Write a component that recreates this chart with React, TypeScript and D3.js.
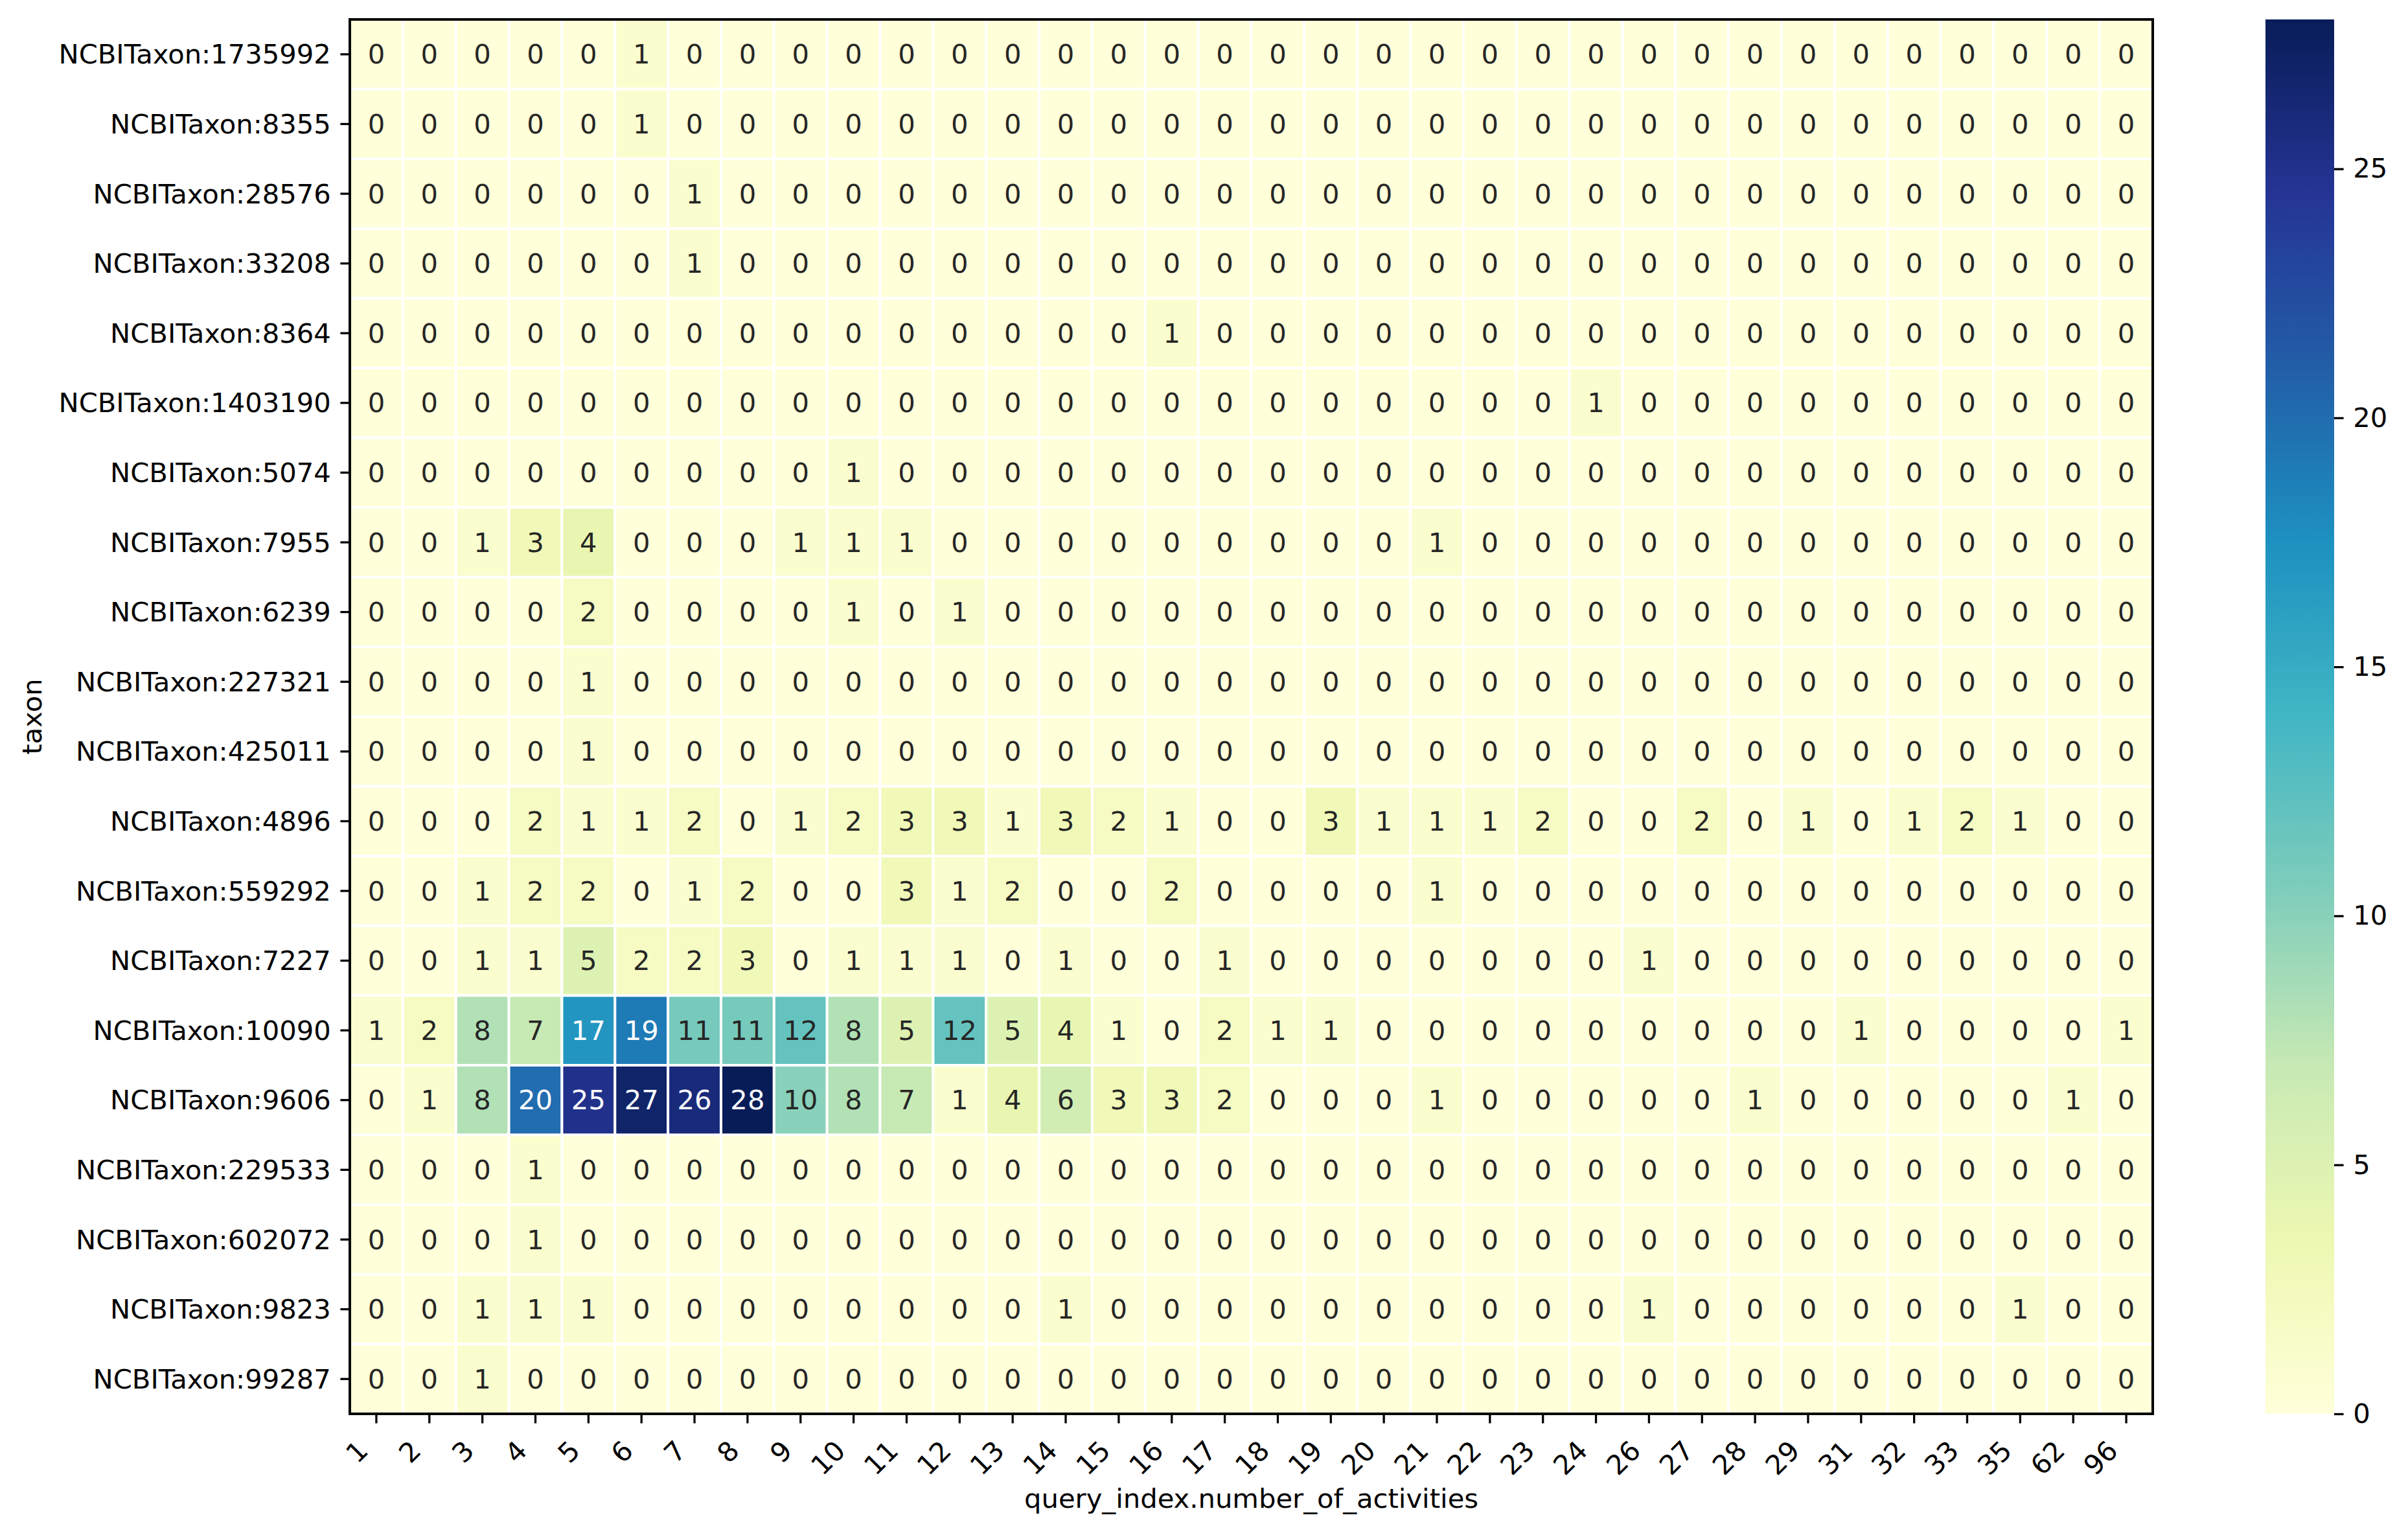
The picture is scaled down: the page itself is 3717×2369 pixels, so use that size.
import React, { useEffect, useRef } from 'react';
import * as d3 from 'd3';

// rows of the heatmap (top to bottom)
const taxa = [
  'NCBITaxon:1735992', 'NCBITaxon:8355', 'NCBITaxon:28576', 'NCBITaxon:33208',
  'NCBITaxon:8364', 'NCBITaxon:1403190', 'NCBITaxon:5074', 'NCBITaxon:7955',
  'NCBITaxon:6239', 'NCBITaxon:227321', 'NCBITaxon:425011', 'NCBITaxon:4896',
  'NCBITaxon:559292', 'NCBITaxon:7227', 'NCBITaxon:10090', 'NCBITaxon:9606',
  'NCBITaxon:229533', 'NCBITaxon:602072', 'NCBITaxon:9823', 'NCBITaxon:99287',
];

// columns (query_index.number_of_activities)
const activityBins = [
  '1', '2', '3', '4', '5', '6', '7', '8', '9', '10', '11', '12', '13', '14', '15', '16', '17',
  '18', '19', '20', '21', '22', '23', '24', '26', '27', '28', '29', '31', '32', '33', '35', '62', '96',
];

// one row per taxon, one value per column
const counts = [
  [0,0,0,0,0,1,0,0,0,0,0,0,0,0,0,0,0, 0,0,0,0,0,0,0,0,0,0,0,0,0,0,0,0,0],
  [0,0,0,0,0,1,0,0,0,0,0,0,0,0,0,0,0, 0,0,0,0,0,0,0,0,0,0,0,0,0,0,0,0,0],
  [0,0,0,0,0,0,1,0,0,0,0,0,0,0,0,0,0, 0,0,0,0,0,0,0,0,0,0,0,0,0,0,0,0,0],
  [0,0,0,0,0,0,1,0,0,0,0,0,0,0,0,0,0, 0,0,0,0,0,0,0,0,0,0,0,0,0,0,0,0,0],
  [0,0,0,0,0,0,0,0,0,0,0,0,0,0,0,1,0, 0,0,0,0,0,0,0,0,0,0,0,0,0,0,0,0,0],
  [0,0,0,0,0,0,0,0,0,0,0,0,0,0,0,0,0, 0,0,0,0,0,0,1,0,0,0,0,0,0,0,0,0,0],
  [0,0,0,0,0,0,0,0,0,1,0,0,0,0,0,0,0, 0,0,0,0,0,0,0,0,0,0,0,0,0,0,0,0,0],
  [0,0,1,3,4,0,0,0,1,1,1,0,0,0,0,0,0, 0,0,0,1,0,0,0,0,0,0,0,0,0,0,0,0,0],
  [0,0,0,0,2,0,0,0,0,1,0,1,0,0,0,0,0, 0,0,0,0,0,0,0,0,0,0,0,0,0,0,0,0,0],
  [0,0,0,0,1,0,0,0,0,0,0,0,0,0,0,0,0, 0,0,0,0,0,0,0,0,0,0,0,0,0,0,0,0,0],
  [0,0,0,0,1,0,0,0,0,0,0,0,0,0,0,0,0, 0,0,0,0,0,0,0,0,0,0,0,0,0,0,0,0,0],
  [0,0,0,2,1,1,2,0,1,2,3,3,1,3,2,1,0, 0,3,1,1,1,2,0,0,2,0,1,0,1,2,1,0,0],
  [0,0,1,2,2,0,1,2,0,0,3,1,2,0,0,2,0, 0,0,0,1,0,0,0,0,0,0,0,0,0,0,0,0,0],
  [0,0,1,1,5,2,2,3,0,1,1,1,0,1,0,0,1, 0,0,0,0,0,0,0,1,0,0,0,0,0,0,0,0,0],
  [1,2,8,7,17,19,11,11,12,8,5,12,5,4,1,0,2, 1,1,0,0,0,0,0,0,0,0,0,1,0,0,0,0,1],
  [0,1,8,20,25,27,26,28,10,8,7,1,4,6,3,3,2, 0,0,0,1,0,0,0,0,0,1,0,0,0,0,0,1,0],
  [0,0,0,1,0,0,0,0,0,0,0,0,0,0,0,0,0, 0,0,0,0,0,0,0,0,0,0,0,0,0,0,0,0,0],
  [0,0,0,1,0,0,0,0,0,0,0,0,0,0,0,0,0, 0,0,0,0,0,0,0,0,0,0,0,0,0,0,0,0,0],
  [0,0,1,1,1,0,0,0,0,0,0,0,0,1,0,0,0, 0,0,0,0,0,0,0,1,0,0,0,0,0,0,1,0,0],
  [0,0,1,0,0,0,0,0,0,0,0,0,0,0,0,0,0, 0,0,0,0,0,0,0,0,0,0,0,0,0,0,0,0,0],
];

const colorbarTicks = [0, 5, 10, 15, 20, 25];

const W = 3717;
const H = 2369;
const margin = { top: 30, right: 394, bottom: 187, left: 540 };
const FONT = 'DejaVu Sans, sans-serif';
const FS = 41.7;
const TICK = 14.6;

// same threshold seaborn uses to pick annotation colour
const luminance = (c: string) => {
  const rgb = d3.rgb(c);
  const f = (v: number) => {
    v /= 255;
    return v <= 0.03928 ? v / 12.92 : Math.pow((v + 0.055) / 1.055, 2.4);
  };
  return 0.2126 * f(rgb.r) + 0.7152 * f(rgb.g) + 0.0722 * f(rgb.b);
};

const App: React.FC = () => {
  const svgRef = useRef<SVGSVGElement>(null);

  useEffect(() => {
    if (!svgRef.current) return;
    const svg = d3.select(svgRef.current);
    svg.selectAll('*').remove();

    const x0 = margin.left, x1 = W - margin.right;
    const y0 = margin.top, y1 = H - margin.bottom;

    const x = d3.scaleBand<string>().domain(activityBins).range([x0, x1]);
    const y = d3.scaleBand<string>().domain(taxa).range([y0, y1]);

    const vmax = d3.max(counts.flat()) as number;
    const stops = d3.schemeYlGnBu[9];
    const color = d3.scaleLinear<string>()
      .domain(stops.map((_, i) => (i / (stops.length - 1)) * vmax))
      .range(stops as string[])
      .interpolate(d3.interpolateRgb);

    const cells = counts.flatMap((row, r) =>
      row.map((v, c) => ({ taxon: taxa[r], bin: activityBins[c], v })));

    // cells
    svg.append('g')
      .selectAll('rect')
      .data(cells)
      .join('rect')
      .attr('x', d => x(d.bin)!)
      .attr('y', d => y(d.taxon)!)
      .attr('width', x.bandwidth())
      .attr('height', y.bandwidth())
      .attr('fill', d => color(d.v))
      .attr('stroke', 'white')
      .attr('stroke-width', 4);

    // annotations
    svg.append('g')
      .selectAll('text')
      .data(cells)
      .join('text')
      .attr('x', d => x(d.bin)! + x.bandwidth() / 2)
      .attr('y', d => y(d.taxon)! + y.bandwidth() / 2)
      .attr('text-anchor', 'middle')
      .attr('dominant-baseline', 'central')
      .attr('font-family', FONT)
      .attr('font-size', FS)
      .attr('fill', d => (luminance(color(d.v)) > 0.408 ? '#262626' : '#ffffff'))
      .text(d => String(d.v));

    // frame
    svg.append('rect')
      .attr('x', x0).attr('y', y0)
      .attr('width', x1 - x0).attr('height', y1 - y0)
      .attr('fill', 'none')
      .attr('stroke', 'black')
      .attr('stroke-width', 4);

    // y ticks
    const yt = svg.append('g');
    taxa.forEach(t => {
      const cy = y(t)! + y.bandwidth() / 2;
      yt.append('line')
        .attr('x1', x0 - TICK).attr('x2', x0)
        .attr('y1', cy).attr('y2', cy)
        .attr('stroke', 'black').attr('stroke-width', 3.3);
      yt.append('text')
        .attr('x', x0 - TICK - 14.6)
        .attr('y', cy)
        .attr('text-anchor', 'end')
        .attr('dominant-baseline', 'central')
        .attr('font-family', FONT)
        .attr('font-size', FS)
        .attr('fill', 'black')
        .text(t);
    });

    // x ticks, rotated 45 deg and right aligned
    const xt = svg.append('g');
    activityBins.forEach(b => {
      const cx = x(b)! + x.bandwidth() / 2;
      xt.append('line')
        .attr('x1', cx).attr('x2', cx)
        .attr('y1', y1).attr('y2', y1 + TICK)
        .attr('stroke', 'black').attr('stroke-width', 3.3);
      xt.append('text')
        .attr('transform', `translate(${cx - 32},${y1 + 38}) rotate(-45)`)
        .attr('dy', FS * 0.73)
        .attr('text-anchor', 'end')
        .attr('font-family', FONT)
        .attr('font-size', FS)
        .attr('fill', 'black')
        .text(b);
    });

    // axis titles
    svg.append('text')
      .attr('x', (x0 + x1) / 2)
      .attr('y', 2327)
      .attr('text-anchor', 'middle')
      .attr('font-family', FONT)
      .attr('font-size', FS)
      .attr('fill', 'black')
      .text('query_index.number_of_activities');

    svg.append('text')
      .attr('transform', `translate(64,${(y0 + y1) / 2}) rotate(-90)`)
      .attr('text-anchor', 'middle')
      .attr('font-family', FONT)
      .attr('font-size', FS)
      .attr('fill', 'black')
      .text('taxon');

    // colorbar
    const cbX = 3497, cbW = 106;
    const cbScale = d3.scaleLinear().domain([0, vmax]).range([y1, y0]);
    const grad = svg.append('defs').append('linearGradient')
      .attr('id', 'cb-grad')
      .attr('x1', 0).attr('y1', 1).attr('x2', 0).attr('y2', 0);
    stops.forEach((s, i) => {
      grad.append('stop')
        .attr('offset', i / (stops.length - 1))
        .attr('stop-color', s);
    });
    svg.append('rect')
      .attr('x', cbX).attr('y', y0)
      .attr('width', cbW).attr('height', y1 - y0)
      .attr('fill', 'url(#cb-grad)');

    const cbAxis = svg.append('g')
      .attr('transform', `translate(${cbX + cbW},0)`)
      .call(d3.axisRight(cbScale).tickValues(colorbarTicks).tickSize(TICK).tickPadding(14.6).tickFormat(d3.format('d')));
    cbAxis.select('.domain').remove();
    cbAxis.selectAll('line').attr('stroke', 'black').attr('stroke-width', 3.3);
    cbAxis.selectAll('text')
      .attr('font-family', FONT)
      .attr('font-size', FS)
      .attr('fill', 'black');
  }, []);

  return (
    <div style={{ position: 'absolute', left: 0, top: 0 }}>
      <svg ref={svgRef} width={W} height={H} style={{ display: 'block', background: 'white' }} />
    </div>
  );
};

export default App;
